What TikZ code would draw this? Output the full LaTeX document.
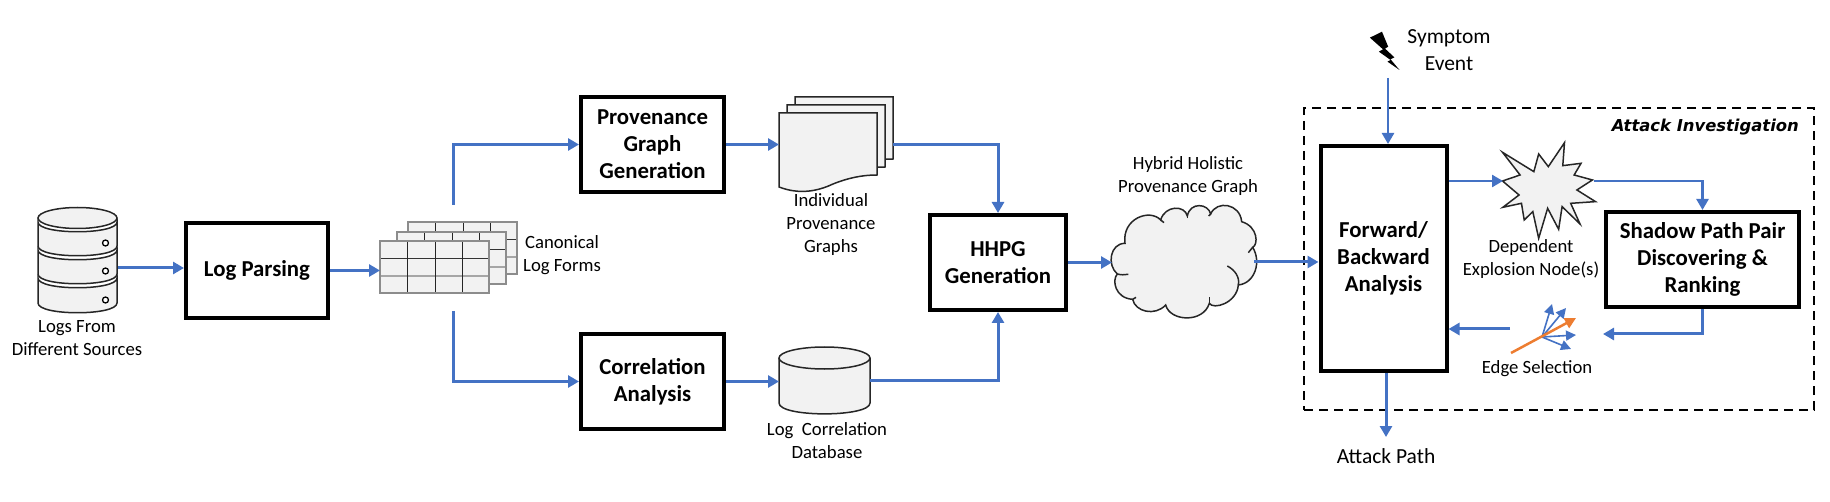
\documentclass[tikz,border=0pt]{standalone}
\usepackage{fontspec}
\setmainfont{Carlito}
\newfontfamily\widefont{DejaVu Sans}
\usetikzlibrary{calc,positioning,arrows.meta}
\definecolor{flowblue}{HTML}{4472C4}
\definecolor{flowgray}{HTML}{F2F2F2}
\definecolor{floworange}{HTML}{ED7D31}
\tikzstyle{proc}      = [draw=black, line width=4pt, align=center, font=\fontsize{22.8}{27}\selectfont\bfseries]
\tikzstyle{caption}   = [align=center, inner sep=0pt, font=\fontsize{18.7}{23}\selectfont]
\tikzstyle{bigcaption}= [align=center, inner sep=0pt, font=\fontsize{21.5}{27}\selectfont]
\tikzstyle{icon}      = [draw=black!85, line width=1.5pt, fill=flowgray]
\tikzstyle{arrow}     = [line width=3pt, draw=flowblue, -{Triangle[length=11pt,width=12pt]}]
\tikzstyle{thinarrow} = [line width=2.5pt, draw=flowblue, -{Triangle[length=11pt,width=12pt]}]
\tikzstyle{fanarrow}  = [line width=1.6pt, draw=flowblue, -{Triangle[length=10pt,width=10pt]}]

\begin{document}
\begin{tikzpicture}[x=1pt,y=-1pt]
        \useasboundingbox (0,0) rectangle (1830,502);

        % dashed frame first, everything else goes over it
        \node (invest) [draw=black, line width=1.7pt, dash pattern=on 9pt off 6pt, minimum width=510pt, minimum height=302pt] at (1559,259) {};
        \node (investlabel) [anchor=east, inner sep=0pt, font=\widefont\fontsize{16.4}{19}\selectfont\bfseries\itshape] at (1799,127) {Attack Investigation};

        % log sources
        \foreach \a/\b in {222/246,250/274,278/303} {
            \draw[icon] (38,\a) -- (38,\b) .. controls (38,\b+13) and (117,\b+13) .. (117,\b) -- (117,\a) .. controls (117,\a+13) and (38,\a+13) .. cycle;
            \draw[line width=1.3pt, fill=white] (105.5,\b-3) circle (3pt);
        }
        \draw[icon] (77.5,218) ellipse (39.5pt and 10.5pt);
        \coordinate (logsrc) at (118,268);
        \node (logsrctext) [caption] at (77,338.5) {Logs From\\Different Sources};

        \node (parsing) [proc, minimum width=142pt, minimum height=95pt] at (257,270.5) {Log Parsing};

        % canonical log forms
        \foreach \dx/\dy in {28/-19,17/-9,0/0} {
            \begin{scope}[shift={(\dx,\dy)}]
                \fill[flowgray] (380,241) rectangle (489,293);
                \draw[line width=1pt, black!80] (380,258.5) -- (489,258.5);
                \draw[line width=1.3pt, black!35] (380,276) -- (489,276);
                \foreach \vx in {407,435,462} \draw[line width=1pt, black!85] (\vx,241) -- (\vx,293);
                \draw[line width=1.3pt, black!45] (380,241) rectangle (489,293);
            \end{scope}
        }
        \node (forms) [minimum width=109pt, minimum height=52pt, inner sep=0pt, outer sep=0pt] at (434.5,267) {};
        \node (formstext) [caption] at (562,255) {Canonical\\Log Forms};
        \coordinate (formsup) at (453,205);
        \coordinate (formsdown) at (453,311);

        \node (provgen) [proc, minimum width=143pt, minimum height=95pt] at (652.5,144.5) {Provenance\\Graph\\Generation};
        \node (corr) [proc, minimum width=143pt, minimum height=95pt] at (652.5,381.5) {Correlation\\Analysis};

        % individual graphs, stacked sheets
        \foreach \dx/\dy in {16/-16,8/-8,0/0} {
            \draw[icon] (779+\dx,113+\dy) -- (779+\dx,187+\dy) .. controls (800+\dx,195+\dy) and (818+\dx,191+\dy) .. (833+\dx,184+\dy) .. controls (848+\dx,178+\dy) and (862+\dx,175+\dy) .. (877+\dx,175+\dy) -- (877+\dx,113+\dy) -- cycle;
        }
        \node (graphs) [minimum width=113.5pt, minimum height=63pt, inner sep=0pt, outer sep=0pt] at (835.75,144.5) {};
        \node (graphstext) [caption] at (831,224.5) {Individual\\Provenance\\Graphs};

        % correlation database
        \draw[icon] (779,358) -- (779,403) .. controls (779,417.5) and (870,417.5) .. (870,403) -- (870,358);
        \draw[icon] (824.5,358) ellipse (45.5pt and 11pt);
        \node (corrdb) [minimum width=91pt, minimum height=67pt, inner sep=0pt, outer sep=0pt] at (824.5,380.5) {};
        \node (corrdbtext) [caption] at (827,441) {Log\ \ Correlation\\Database};

        \node (merge) [proc, minimum width=136pt, minimum height=95pt] at (998,262.5) {HHPG\\Generation};

        % holistic graph cloud
        \begin{scope}[shift={(1100,190)}, x=0.3333pt, y=-0.3333pt]
            \draw[icon] (75,160) .. controls (65,85) and (150,55) .. (182,90)
                .. controls (195,45) and (255,45) .. (262,78)
                .. controls (270,35) and (325,40) .. (332,72)
                .. controls (350,30) and (420,40) .. (425,95)
                .. controls (475,110) and (475,165) .. (458,172)
                .. controls (485,215) and (465,280) .. (415,285)
                .. controls (410,340) and (340,360) .. (328,340)
                .. controls (310,400) and (210,395) .. (197,345)
                .. controls (165,380) and (105,365) .. (98,328)
                .. controls (45,325) and (35,270) .. (52,252)
                .. controls (20,225) and (30,160) .. cycle;
            \draw[line width=1.5pt, black!85] (182,90) -- (192,98);
            \draw[line width=1.5pt, black!85] (262,78) -- (262,84);
            \draw[line width=1.5pt, black!85] (332,72) -- (326,78);
            \draw[line width=1.5pt, black!85] (458,172) -- (445,188);
            \draw[line width=1.5pt, black!85] (382,228) .. controls (405,240) and (420,262) .. (415,285);
            \draw[line width=1.5pt, black!85] (328,322) -- (328,340);
            \draw[line width=1.5pt, black!85] (98,328) -- (108,322);
            \draw[line width=1.5pt, black!85] (52,252) .. controls (62,255) and (74,255) .. (85,253);
        \end{scope}
        \node (cloud) [minimum width=142pt, minimum height=100pt, inner sep=0pt, outer sep=0pt] at (1183,262) {};
        \node (cloudtext) [caption] at (1188,176) {Hybrid Holistic\\Provenance Graph};

        \node (analysis) [proc, minimum width=126pt, minimum height=225pt] at (1383.5,258.5) {Forward/\\Backward\\Analysis};
        \node (shadow) [proc, minimum width=193pt, minimum height=95pt] at (1702.5,259.5) {Shadow Path Pair\\Discovering \&\\Ranking};

        % symptom
        \begin{scope}[shift={(1290,0)}, x=0.3444pt, y=-0.3333pt]
            \fill[black] (232,113) -- (267,95) -- (285,140) -- (276,146) -- (303,172) -- (292,178) -- (318,210) -- (283,185) -- (292,180) -- (258,155) -- (270,148) -- cycle;
        \end{scope}
        \node (symptom) [bigcaption] at (1449,50) {Symptom\\Event};
        \coordinate (symptomout) at (1388,78);

        % explosion node
        \begin{scope}[shift={(1290,0)}, x=0.3444pt, y=-0.3333pt]
            \draw[icon] (617,457) -- (708,515) -- (722,462) -- (750,500) -- (797,428) -- (792,497) -- (845,490) -- (825,525) -- (878,540) -- (833,570) -- (887,605) -- (815,610) -- (842,672) -- (790,620) -- (780,688) -- (748,625) -- (722,715) -- (705,635) -- (680,660) -- (672,610) -- (618,622) -- (665,585) -- (617,543) -- (668,525) -- cycle;
        \end{scope}
        \coordinate (burstin) at (1503,181);
        \coordinate (burstout) at (1594,181);
        \node (bursttext) [caption] at (1531,259) {Dependent\\Explosion Node(s)};

        % edge selection fan
        \coordinate (fan) at (1542,337);
        \foreach \tipx/\tipy in {1552/304,1566/308,1576/335,1571/349} {
            \draw[fanarrow] (fan) -- (\tipx,\tipy);
        }
        \coordinate (fanstart) at (1511,353);
        \coordinate (fantip) at (1576,318);
        \draw[line width=2.5pt, draw=floworange, -{Triangle[length=11pt,width=11pt]}] (fanstart) -- (fantip);
        \node (fantext) [caption] at (1537,369) {Edge Selection};
        \coordinate (fanright) at (1603,334);
        \coordinate (fanleft) at (1510,329);

        \node (attack) [bigcaption] at (1386,456) {Attack Path};
        \coordinate (attackend) at (1386,437);

        % connectors
        \draw[arrow] (logsrc) -- (logsrc -| parsing.west);
        \draw[arrow] (parsing.east) -- (parsing.east -| forms.west);
        \draw[arrow] (formsup) |- (provgen.west);
        \draw[arrow] (formsdown) |- (corr.west);
        \draw[arrow] (provgen.east) -- (provgen.east -| graphs.west);
        \draw[arrow] (corr.east) -- (corr.east -| corrdb.west);
        \draw[arrow] (graphs.east) -| (merge.north);
        \draw[arrow] (corrdb.east) -| (merge.south);
        \draw[arrow] (merge.east) -- (merge.east -| cloud.west);
        \draw[arrow] (cloud.east) -- (analysis.west |- cloud.east);
        \draw[thinarrow] (symptomout) -- (symptomout |- analysis.north);
        \draw[thinarrow] (analysis.east |- burstin) -- (burstin);
        \draw[thinarrow] (burstout) -| (shadow.north);
        \draw[arrow] (shadow.south) |- (fanright);
        \draw[arrow] (fanleft) -- (fanleft -| analysis.east);
        \draw[arrow] (attackend |- analysis.south) -- (attackend);
    \end{tikzpicture}
\end{document}
